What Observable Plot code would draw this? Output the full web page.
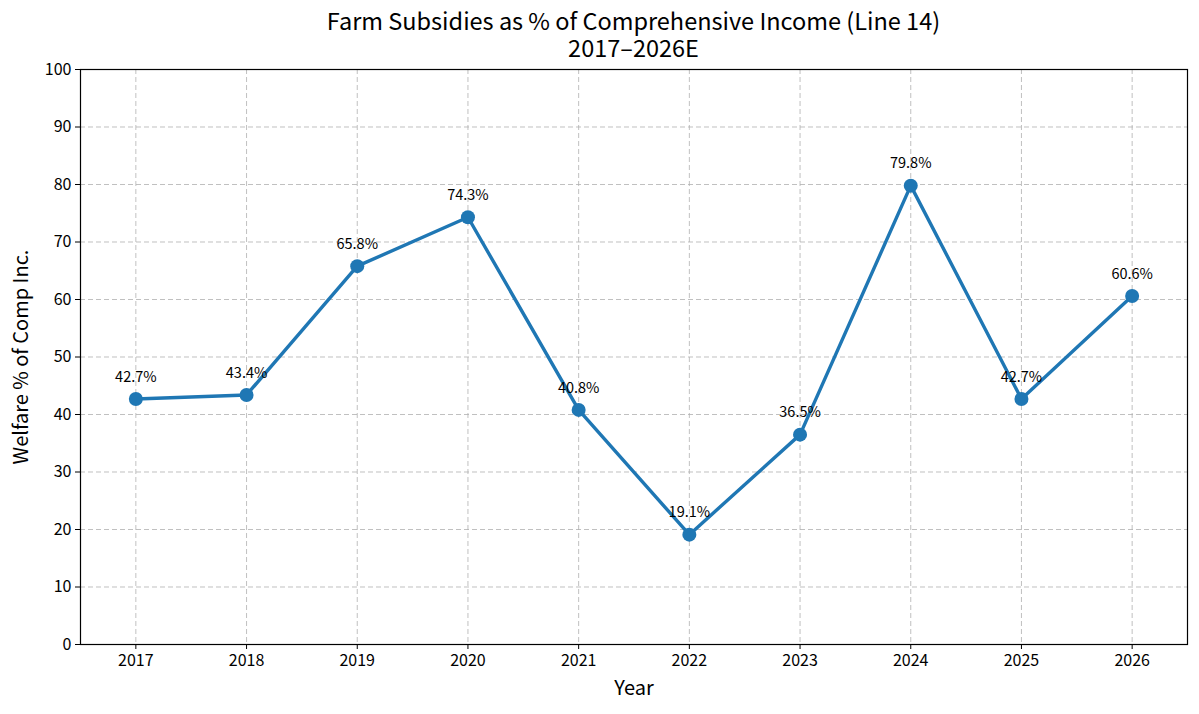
<!DOCTYPE html>
<html>
<head>
<meta charset="utf-8">
<script src="https://cdn.jsdelivr.net/npm/d3@7"></script>
<script src="https://cdn.jsdelivr.net/npm/@observablehq/plot@0.6"></script>
<style>
  body { margin: 0; background: #fff; font-family: "Noto Sans CJK JP", "Noto Sans", sans-serif; }
  #title { box-sizing: border-box; height: 50px; padding: 7px 12px 0 80px; text-align: center; font-size: 23.5px; line-height: 27px; color: #000; position: relative; z-index: 1; }
</style>
</head>
<body>
<div id="title"><div>Farm Subsidies as % of Comprehensive Income (Line 14)</div><div>2017–2026E</div></div>
<div id="chart"></div>
<script>
const years = [2017, 2018, 2019, 2020, 2021, 2022, 2023, 2024, 2025, 2026];
const values = [42.7, 43.4, 65.8, 74.3, 40.8, 19.1, 36.5, 79.8, 42.7, 60.6];
const yTicks = [0, 10, 20, 30, 40, 50, 60, 70, 80, 90, 100];
const xLabel = "Year";
const yLabel = "Welfare % of Comp Inc.";

const data = years.map((y, i) => ({year: y, value: values[i], label: values[i].toFixed(1) + "%"}));

const chart = Plot.plot({
  width: 1199,
  height: 664,
  marginTop: 19,
  marginBottom: 70,
  marginLeft: 80,
  marginRight: 12,
  style: { fontFamily: "'Noto Sans CJK JP', 'Noto Sans', sans-serif", color: "#000", background: "transparent", overflow: "visible" },
  x: { domain: [2016.5, 2026.5] },
  y: { domain: [0, 100] },
  marks: [
    Plot.gridX(years, { stroke: "#b0b0b0", strokeOpacity: 0.8, strokeDasharray: "5,3" }),
    Plot.gridY(yTicks, { stroke: "#b0b0b0", strokeOpacity: 0.8, strokeDasharray: "5,3" }),
    Plot.axisX(years, { tickFormat: d3.format("d"), tickSize: 5, tickPadding: 5, fontSize: 16, label: xLabel, labelAnchor: "center", labelArrow: "none", labelOffset: 50 }),
    Plot.axisY(yTicks, { tickSize: 5, tickPadding: 4, fontSize: 16, label: yLabel, labelAnchor: "center", labelArrow: "none", labelOffset: 67 }),
    Plot.frame({ stroke: "#000", strokeWidth: 1.2 }),
    Plot.line(data, { x: "year", y: "value", stroke: "#1f77b4", strokeWidth: 3.4 }),
    Plot.dot(data, { x: "year", y: "value", fill: "#1f77b4", r: 7 }),
    Plot.text(data, { x: "year", y: "value", text: "label", dy: -22, fontSize: 14.5, fill: "#000" })
  ]
});
document.getElementById("chart").appendChild(chart);
chart.querySelectorAll("g[aria-label='x-axis label'] text, g[aria-label='y-axis label'] text").forEach(t => t.setAttribute("font-size", 20));
chart.querySelectorAll("g[aria-label='x-axis label'], g[aria-label='y-axis label']").forEach(g => g.setAttribute("font-size", 20));
</script>
</body>
</html>
